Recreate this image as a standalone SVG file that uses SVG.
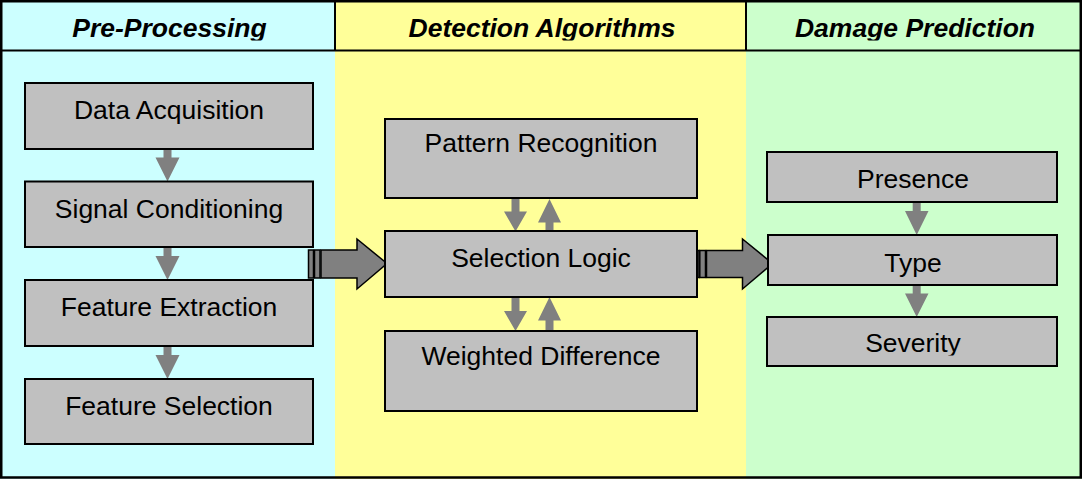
<svg xmlns="http://www.w3.org/2000/svg" width="1082" height="479" viewBox="0 0 1082 479">
<style>
.box{fill:#C0C0C0;stroke:#000;stroke-width:2}
.lbl{font-family:"Liberation Sans",Arial,sans-serif;font-size:26.5px;fill:#000;text-anchor:middle}
.hdr{font-family:"Liberation Sans",Arial,sans-serif;font-size:26.5px;font-weight:bold;font-style:italic;fill:#000;text-anchor:middle}
.sm{fill:#808080;stroke:none}
.big{fill:#808080;stroke:#000;stroke-width:1.5;stroke-linejoin:miter}
</style>
<defs>
<clipPath id="hclip"><rect x="0" y="0" width="1082" height="40.5"/></clipPath>
<clipPath id="sclip"><rect x="767" y="317" width="290" height="38.5"/></clipPath>
</defs>
<g id="background">
<rect x="0" y="0" width="335" height="479" fill="#CCFFFF"/>
<rect x="335" y="0" width="411" height="479" fill="#FFFF99"/>
<rect x="746" y="0" width="336" height="479" fill="#CCFFCC"/>
<line x1="0" y1="50.5" x2="1082" y2="50.5" stroke="#000" stroke-width="2"/>
<line x1="335" y1="0" x2="335" y2="50.5" stroke="#000" stroke-width="2"/>
<line x1="746" y1="0" x2="746" y2="50.5" stroke="#000" stroke-width="2"/>
<rect x="1.25" y="1.25" width="1079.5" height="476.25" fill="none" stroke="#000" stroke-width="2.5"/>
</g>
<g id="headers" clip-path="url(#hclip)">
<text class="hdr" x="169.5" y="36.5">Pre-Processing</text>
<text class="hdr" x="542" y="36.5">Detection Algorithms</text>
<text class="hdr" x="915" y="36.5">Damage Prediction</text>
</g>
<g id="connectors">
<path class="sm" d="M163.5,149 H171.5 V157.5 H179.5 L167.5,181.5 L155.5,157.5 H163.5 Z"/>
<path class="sm" d="M163.5,247 H171.5 V256 H179.5 L167.5,280 L155.5,256 H163.5 Z"/>
<path class="sm" d="M163.5,346 H171.5 V355 H179.5 L167.5,379 L155.5,355 H163.5 Z"/>
<path class="sm" d="M511.5,198 H519.5 V211.5 H527 L515.5,231.5 L504,211.5 H511.5 Z"/>
<path class="sm" d="M545.5,231 H553.5 V222.5 H561 L549.5,199 L538,222.5 H545.5 Z"/>
<path class="sm" d="M511.5,297 H519.5 V311 H527 L515.5,331 L504,311 H511.5 Z"/>
<path class="sm" d="M545.5,331 H553.5 V320.5 H561 L549.5,297 L538,320.5 H545.5 Z"/>
<path class="sm" d="M912.7,202 H920.7 V211 H928.5 L916.7,235 L905,211 H912.7 Z"/>
<path class="sm" d="M912.7,285 H920.7 V293.5 H928.5 L916.7,317 L905,293.5 H912.7 Z"/>
<rect class="big" x="308.5" y="250" width="5" height="28"/>
<rect class="big" x="314.5" y="250" width="5.5" height="28"/>
<polygon class="big" points="321,250 357,250 357,239 387,263.5 357,289 357,278 321,278"/>
<rect class="big" x="695" y="250.5" width="4" height="27"/>
<rect class="big" x="699.8" y="250.5" width="5.7" height="27"/>
<polygon class="big" points="706.5,250.5 742.5,250.5 742.5,239 772.5,263.5 742.5,289 742.5,277.5 706.5,277.5"/>
</g>
<g id="n-data-acquisition"><rect class="box" x="25" y="83" width="288" height="66"/><text class="lbl" x="169" y="119">Data Acquisition</text></g>
<g id="n-signal-conditioning"><rect class="box" x="25" y="181.5" width="288" height="65.5"/><text class="lbl" x="169" y="217.5">Signal Conditioning</text></g>
<g id="n-feature-extraction"><rect class="box" x="25" y="280" width="288" height="66"/><text class="lbl" x="169" y="316">Feature Extraction</text></g>
<g id="n-feature-selection"><rect class="box" x="25" y="379" width="288" height="65"/><text class="lbl" x="169" y="415">Feature Selection</text></g>
<g id="n-pattern-recognition"><rect class="box" x="385" y="119" width="312" height="79"/><text class="lbl" x="541" y="152">Pattern Recognition</text></g>
<g id="n-selection-logic"><rect class="box" x="385" y="231" width="312" height="66"/><text class="lbl" x="541" y="267.3">Selection Logic</text></g>
<g id="n-weighted-difference"><rect class="box" x="385" y="331" width="312" height="80"/><text class="lbl" x="541" y="365">Weighted Difference</text></g>
<g id="n-presence"><rect class="box" x="767" y="152" width="290" height="50"/><text class="lbl" x="913" y="188">Presence</text></g>
<g id="n-type"><rect class="box" x="768" y="235" width="289" height="50"/><text class="lbl" x="913" y="271.7">Type</text></g>
<g id="n-severity"><rect class="box" x="767" y="317" width="290" height="49"/><text class="lbl" x="913" y="352" clip-path="url(#sclip)">Severity</text></g>
</svg>
